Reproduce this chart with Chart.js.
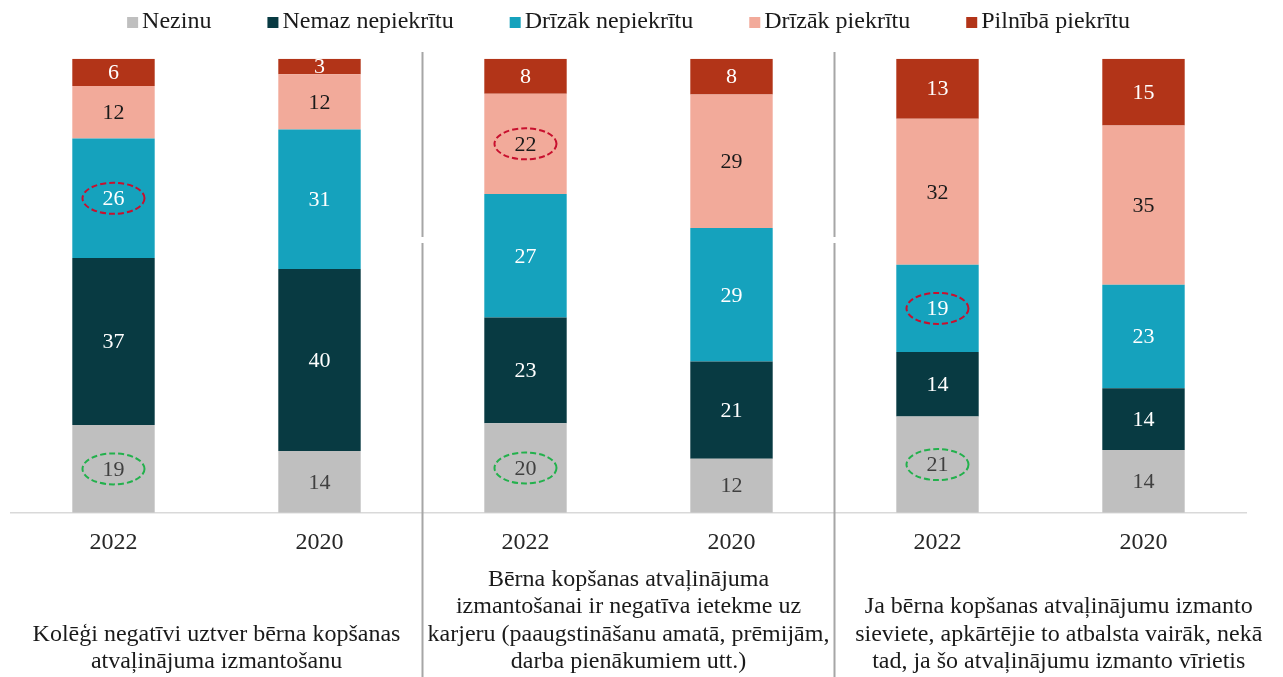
<!DOCTYPE html>
<html>
<head>
<meta charset="utf-8">
<script src="https://cdn.jsdelivr.net/npm/chart.js@4.4.0/dist/chart.umd.min.js"></script>
<style>
  html, body { margin: 0; padding: 0; background: #fff; }
  #wrap { width: 1283px; height: 677px; }
</style>
</head>
<body>
<div id="wrap"><canvas id="surveyChart" width="1283" height="677"></canvas></div>
<script>
// categories (two survey years per statement)
const categories = ['2022', '2020', '2022', '2020', '2022', '2020'];

// answer shares, %
const nezinu      = [19.3, 13.6, 19.7, 11.9, 21.2, 13.8];
const nemaz       = [36.8, 40.1, 23.3, 21.4, 14.2, 13.6];
const drizakNe    = [26.3, 30.7, 27.2, 29.4, 19.2, 22.8];
const drizakJa    = [11.6, 12.2, 22.1, 29.4, 32.2, 35.1];
const pilnibaJa   = [6.0, 3.4, 7.7, 7.9, 13.2, 14.7];

const seriesNames = ['Nezinu', 'Nemaz nepiekrītu', 'Drīzāk nepiekrītu', 'Drīzāk piekrītu', 'Pilnībā piekrītu'];
const seriesColors = ['#BFBFBF', '#083A42', '#15A2BD', '#F2AA9A', '#B23418'];
const labelColors = ['#404040', '#ffffff', '#ffffff', '#1a1a1a', '#ffffff'];

// statement titles under each pair of bars
const groupTitles = [
  ['Kolēģi negatīvi uztver bērna kopšanas', 'atvaļinājuma izmantošanu'],
  ['Bērna kopšanas atvaļinājuma', 'izmantošanai ir negatīva ietekme uz', 'karjeru (paaugstināšanu amatā, prēmijām,', 'darba pienākumiem utt.)'],
  ['Ja bērna kopšanas atvaļinājumu izmanto', 'sieviete, apkārtējie to atbalsta vairāk, nekā', 'tad, ja šo atvaļinājumu izmanto vīrietis']
];

// circled labels: [series index, bar index, colour]
const highlights = [
  [2, 0, '#C8102E'], [0, 0, '#22B14C'],
  [3, 2, '#C8102E'], [0, 2, '#22B14C'],
  [2, 4, '#C8102E'], [0, 4, '#22B14C']
];

const serif = "'Liberation Serif', 'Times New Roman', serif";

const allSeries = [nezinu, nemaz, drizakNe, drizakJa, pilnibaJa];

const extras = {
  id: 'extras',
  afterDatasetsDraw(chart) {
    const ctx = chart.ctx;
    const area = chart.chartArea;
    const xs = chart.scales.x;

    // value labels
    ctx.save();
    ctx.font = '22px ' + serif;
    ctx.textAlign = 'center';
    ctx.textBaseline = 'middle';
    chart.data.datasets.forEach((ds, di) => {
      const meta = chart.getDatasetMeta(di);
      meta.data.forEach((bar, i) => {
        const p = bar.getProps(['x', 'y', 'base'], true);
        ctx.fillStyle = labelColors[di];
        ctx.fillText(Math.round(ds.data[i]), p.x, (p.y + p.base) / 2 + 1);
      });
    });

    // dashed ellipses
    ctx.lineWidth = 2;
    ctx.setLineDash([6, 3]);
    highlights.forEach(([di, i, col]) => {
      const p = chart.getDatasetMeta(di).data[i].getProps(['x', 'y', 'base'], true);
      ctx.strokeStyle = col;
      ctx.beginPath();
      ctx.ellipse(p.x, (p.y + p.base) / 2, 31, 15.5, 0, 0, Math.PI * 2);
      ctx.stroke();
    });
    ctx.restore();

    // group separators
    const sep1 = (xs.getPixelForValue(1) + xs.getPixelForValue(2)) / 2;
    const sep2 = (xs.getPixelForValue(3) + xs.getPixelForValue(4)) / 2;
    ctx.save();
    ctx.strokeStyle = '#A6A6A6';
    ctx.lineWidth = 2;
    [sep1, sep2].forEach(x => {
      ctx.beginPath();
      ctx.moveTo(x, 52); ctx.lineTo(x, 237);
      ctx.moveTo(x, 243); ctx.lineTo(x, chart.height);
      ctx.stroke();
    });
    ctx.restore();

    // statement titles
    const centers = [(area.left + sep1) / 2, (sep1 + sep2) / 2, (sep2 + chart.width) / 2];
    ctx.save();
    ctx.font = '24px ' + serif;
    ctx.fillStyle = '#1a1a1a';
    ctx.textAlign = 'center';
    ctx.textBaseline = 'middle';
    groupTitles.forEach((lines, g) => {
      const n = lines.length;
      lines.forEach((t, k) => {
        ctx.fillText(t, centers[g], 662 - (n - 1 - k) * 27.4);
      });
    });
    ctx.restore();

    // legend
    ctx.save();
    ctx.font = '24px ' + serif;
    ctx.textBaseline = 'middle';
    ctx.textAlign = 'left';
    const gapBox = 4, gapItem = 56, box = 11;
    const widths = seriesNames.map(s => box + gapBox + ctx.measureText(s).width);
    const total = widths.reduce((a, b) => a + b, 0) + gapItem * (widths.length - 1);
    let x = (area.left + area.right) / 2 - total / 2;
    seriesNames.forEach((s, i) => {
      ctx.fillStyle = seriesColors[i];
      ctx.fillRect(x, 17, box, box);
      ctx.fillStyle = '#1a1a1a';
      ctx.fillText(s, x + box + gapBox, 22);
      x += widths[i] + gapItem;
    });
    ctx.restore();
  }
};

new Chart(document.getElementById('surveyChart'), {
  type: 'bar',
  data: {
    labels: categories,
    datasets: allSeries.map((vals, i) => ({
      label: seriesNames[i],
      data: vals,
      backgroundColor: seriesColors[i],
      borderWidth: 0,
      categoryPercentage: 1,
      barPercentage: 0.4
    }))
  },
  options: {
    responsive: false,
    animation: false,
    layout: { padding: { top: 58.7, left: 10.5, right: 36.5, bottom: 103.5 } },
    plugins: {
      legend: { display: false },
      tooltip: { enabled: false }
    },
    scales: {
      x: {
        stacked: true,
        grid: { display: false, drawTicks: false },
        border: { color: '#D9D9D9', width: 1.5 },
        ticks: { color: '#262626', font: { family: serif, size: 24 }, padding: 16 }
      },
      y: {
        stacked: true,
        display: false,
        min: 0,
        max: 100
      }
    }
  },
  plugins: [extras]
});
</script>
</body>
</html>
